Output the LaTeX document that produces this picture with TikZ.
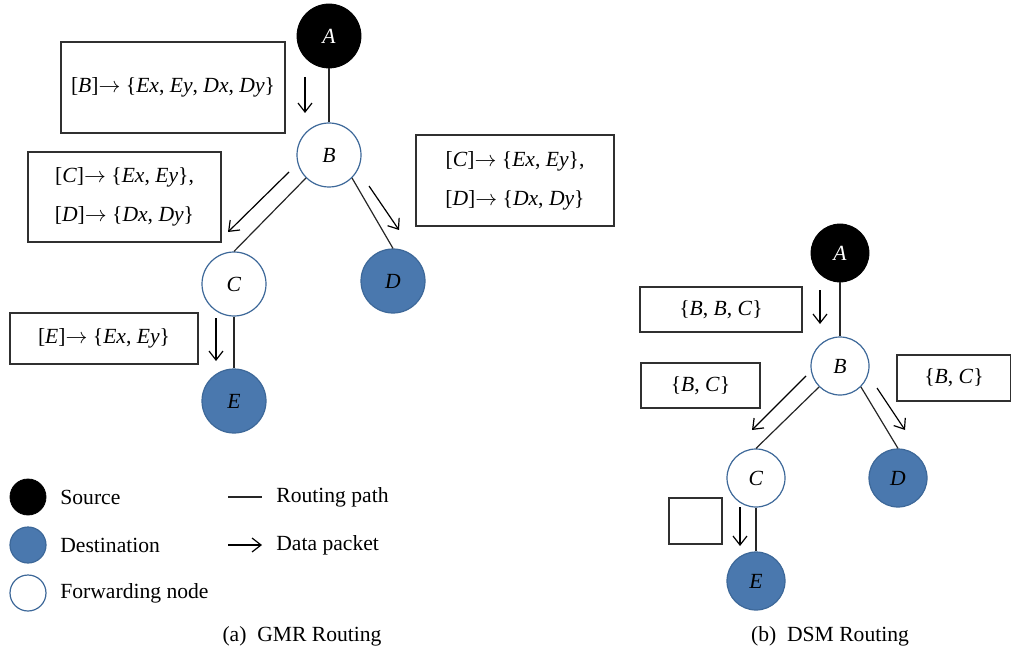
\documentclass[tikz,border=0pt]{standalone}
\usepackage{fontspec}
\setmainfont{Liberation Serif}
\usetikzlibrary{arrows.meta,positioning}
\definecolor{nodeblue}{HTML}{4A78AE}
\definecolor{nodeedge}{HTML}{3D6899}
\definecolor{boxline}{HTML}{303030}
\newcommand{\ra}{$\rightarrow$}
\tikzset{
  src/.style={circle,draw=black,fill=black,text=white,minimum size=32pt,inner sep=0pt},
  dst/.style={circle,draw=nodeedge,fill=nodeblue,minimum size=32pt,inner sep=0pt,line width=0.6pt},
  fwd/.style={circle,draw=nodeedge,fill=white,minimum size=32pt,inner sep=0pt,line width=0.6pt},
  smallnode/.style={minimum size=29pt},
  legnode/.style={minimum size=18pt},
  tag/.style={draw=boxline,line width=0.8pt,align=center,inner sep=0pt,
    font=\fontsize{10.8}{19.5}\selectfont},
  route/.style={draw=black!85,line width=0.6pt},
  packet/.style={-{Straight Barb[length=4.5pt,width=7pt]},draw=black,line width=0.6pt},
  legtext/.style={anchor=west,inner sep=0pt}
}
\begin{document}
\begin{tikzpicture}[x=0.5pt,y=-0.5pt,font=\fontsize{10.8}{13}\selectfont]
  \useasboundingbox (0,0) rectangle (1011,652);
  % (a) GMR routing
  \node[src] (a-A) at (329,36) {\textit{A}};
  \node[fwd] (a-B) at (329,155) {\textit{B}};
  \node[fwd] (a-C) at (234,284) {\textit{C}};
  \node[dst] (a-D) at (393,281) {\textit{D}};
  \node[dst] (a-E) at (234,401) {\textit{E}};
  \draw[route] (a-A) -- (a-B);
  \draw[route] (a-B.225) -- (a-C.north);
  \draw[route] (a-B.-45) -- (a-D.north);
  \draw[route] (a-C) -- (a-E);

  \coordinate (a-p1s) at (305,77);  \coordinate (a-p1e) at (305,113);
  \coordinate (a-p2s) at (289,172); \coordinate (a-p2e) at (228,232);
  \coordinate (a-p3s) at (369,186); \coordinate (a-p3e) at (399,230);
  \coordinate (a-p4s) at (216,318); \coordinate (a-p4e) at (216,361);
  \draw[packet] (a-p1s) -- (a-p1e);
  \draw[packet] (a-p2s) -- (a-p2e);
  \draw[packet] (a-p3s) -- (a-p3e);
  \draw[packet] (a-p4s) -- (a-p4e);

  \node[tag,minimum width=112pt,minimum height=45.5pt] (a-t1) at (173,87.5)
    {[\textit{B}]\ra\ \{\textit{Ex}, \textit{Ey}, \textit{Dx}, \textit{Dy}\}};
  \node[tag,minimum width=96.5pt,minimum height=45pt] (a-t2) at (124.5,197)
    {[\textit{C}]\ra\ \{\textit{Ex}, \textit{Ey}\},\\{}[\textit{D}]\ra\ \{\textit{Dx}, \textit{Dy}\}};
  \node[tag,minimum width=99pt,minimum height=45.5pt] (a-t3) at (515,180.5)
    {[\textit{C}]\ra\ \{\textit{Ex}, \textit{Ey}\},\\{}[\textit{D}]\ra\ \{\textit{Dx}, \textit{Dy}\}};
  \node[tag,minimum width=94pt,minimum height=25.5pt] (a-t4) at (104,338.5)
    {[\textit{E}]\ra\ \{\textit{Ex}, \textit{Ey}\}};

  % legend
  \node[src,legnode] (l-src) at (28,497) {};
  \node[dst,legnode] (l-dst) at (28,545) {};
  \node[fwd,legnode] (l-fwd) at (28,593) {};
  \node[legtext] (l-srct) at (60,497) {Source};
  \node[legtext] (l-dstt) at (60,545) {Destination};
  \node[legtext] (l-fwdt) at (60,593) {Forwarding node};
  \coordinate (l-r1) at (228,497); \coordinate (l-r2) at (262,497);
  \coordinate (l-d1) at (228,545); \coordinate (l-d2) at (262,545);
  \draw[route] (l-r1) -- (l-r2);
  \draw[packet] (l-d1) -- (l-d2);
  \node[legtext] (l-routet) at (276,497) {Routing path};
  \node[legtext] (l-packt) at (276,545) {Data packet};

  \node (cap-a) at (302,636) {(a)\ \ GMR Routing};

  % (b) DSM routing
  \node[src,smallnode] (b-A) at (840,253) {\textit{A}};
  \node[fwd,smallnode] (b-B) at (840,366) {\textit{B}};
  \node[fwd,smallnode] (b-C) at (756,478) {\textit{C}};
  \node[dst,smallnode] (b-D) at (898,478) {\textit{D}};
  \node[dst,smallnode] (b-E) at (756,581) {\textit{E}};
  \draw[route] (b-A) -- (b-B);
  \draw[route] (b-B.225) -- (b-C.north);
  \draw[route] (b-B.-45) -- (b-D.north);
  \draw[route] (b-C) -- (b-E);

  \coordinate (b-p1s) at (820,290); \coordinate (b-p1e) at (820,324);
  \coordinate (b-p2s) at (806,376); \coordinate (b-p2e) at (752,430);
  \coordinate (b-p3s) at (877,388); \coordinate (b-p3e) at (905,430);
  \coordinate (b-p4s) at (740,507); \coordinate (b-p4e) at (740,546);
  \draw[packet] (b-p1s) -- (b-p1e);
  \draw[packet] (b-p2s) -- (b-p2e);
  \draw[packet] (b-p3s) -- (b-p3e);
  \draw[packet] (b-p4s) -- (b-p4e);

  \node[tag,minimum width=81pt,minimum height=22.5pt] (b-t1) at (721,309.5)
    {\{\textit{B}, \textit{B}, \textit{C}\}};
  \node[tag,minimum width=59.5pt,minimum height=22.5pt] (b-t2) at (700.5,385.5)
    {\{\textit{B}, \textit{C}\}};
  \node[tag,minimum width=57pt,minimum height=23pt] (b-t3) at (954,378)
    {\{\textit{B}, \textit{C}\}};
  \node[tag,minimum width=26.5pt,minimum height=23pt] (b-t4) at (695.5,521) {};

  \node (cap-b) at (830,636) {(b)\ \ DSM Routing};
\end{tikzpicture}
\end{document}
